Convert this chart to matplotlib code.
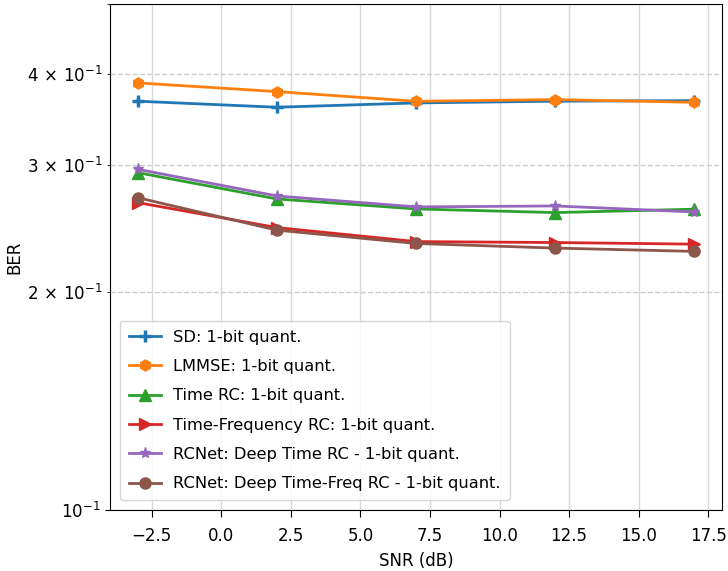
import matplotlib
matplotlib.use("Agg")
import matplotlib.pyplot as plt
from matplotlib.ticker import FuncFormatter

snr = [-3, 2, 7, 12, 17]
sd = [0.367, 0.360, 0.365, 0.367, 0.3677]
lmmse = [0.389, 0.3784, 0.3669, 0.3689, 0.3657]
time_rc = [0.2924, 0.2689, 0.2605, 0.2575, 0.2603]
tf_rc = [0.2658, 0.2455, 0.2348, 0.2341, 0.2329]
deep_time = [0.2955, 0.2715, 0.2622, 0.2630, 0.2580]
deep_tf = [0.2700, 0.2435, 0.2334, 0.2300, 0.2276]

labels = ["SD: 1-bit quant.", "LMMSE: 1-bit quant.", "Time RC: 1-bit quant.",
          "Time-Frequency RC: 1-bit quant.", "RCNet: Deep Time RC - 1-bit quant.",
          "RCNet: Deep Time-Freq RC - 1-bit quant."]
minor_labels = {2: r'$\mathdefault{2\,\times\,10^{-1}}$',
                3: r'$\mathdefault{3\,\times\,10^{-1}}$',
                4: r'$\mathdefault{4\,\times\,10^{-1}}$'}

fig = plt.figure(figsize=(7.28, 5.71), dpi=100)
ax = fig.add_axes([0.151, 0.107, 0.841, 0.886])

series = [sd, lmmse, time_rc, tf_rc, deep_time, deep_tf]
markers = ['+', 'h', '^', '>', '*', 'o']
colors = ['C0', 'C1', 'C2', 'C3', 'C4', 'C5']
for s, m, c, l in zip(series, markers, colors, labels):
    kw = dict(markersize=8)
    if m == '+':
        kw = dict(markersize=9, markeredgewidth=2.5)
    ax.plot(snr, s, marker=m, color=c, lw=2, label=l, **kw)

ax.set_yscale('log')
ax.set_ylim(0.1, 0.5)
ax.set_xlim(-4, 18)


def minor_fmt(v, pos):
    k = int(round(v * 10))
    if abs(v * 10 - k) < 1e-6 and k in minor_labels:
        return minor_labels[k]
    return ''


ax.yaxis.set_minor_formatter(FuncFormatter(minor_fmt))
ax.tick_params(axis='both', which='both', labelsize=12)
ax.tick_params(axis='x', which='major', length=5, pad=7)
ax.xaxis.grid(True, color='#d9d9d9', ls='-', lw=1)
ax.yaxis.grid(True, which='both', color='#cccccc', ls='--', lw=1)
ax.set_axisbelow(True)
ax.set_xlabel('SNR (dB)', fontsize=12, labelpad=5)
ax.set_ylabel('BER', fontsize=12)
ax.yaxis.set_label_coords(-0.142, 0.5)
ax.legend(loc='lower left', fontsize=11.7, labelspacing=0.88,
          borderpad=0.55, borderaxespad=0.6, handletextpad=0.75)
fig.savefig('out.png', dpi=100)
